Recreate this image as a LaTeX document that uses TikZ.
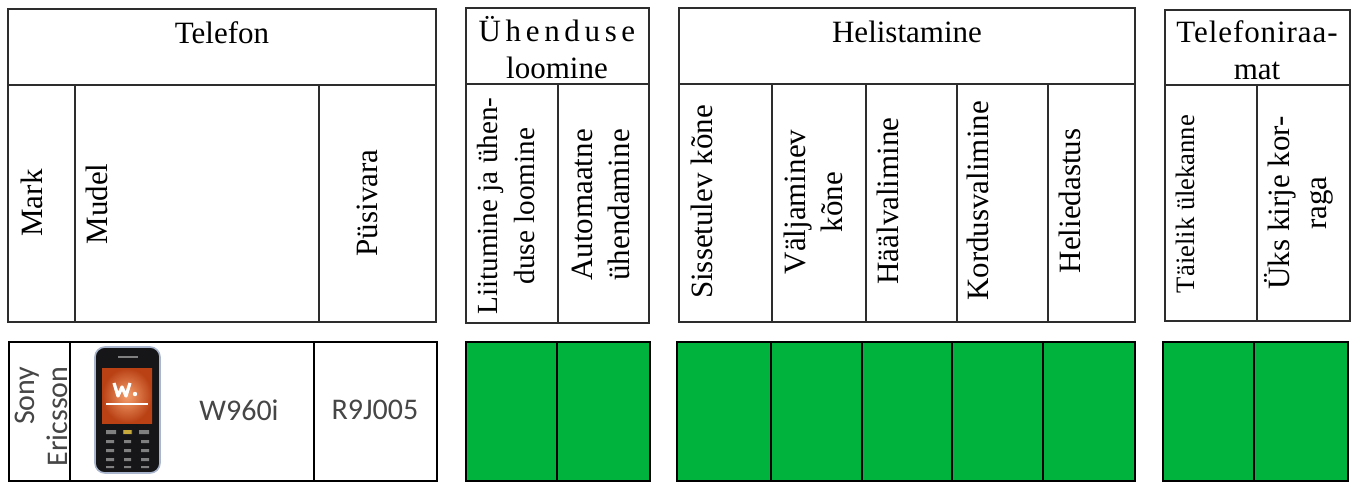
\documentclass[tikz,border=0pt]{standalone}
\usepackage{fontspec}
\setmainfont{Liberation Serif}
\newfontfamily\spacedfont[LetterSpace=15]{Liberation Serif}
\newfontfamily\raafont[LetterSpace=3]{Liberation Serif}
\newfontfamily\datafont{Carlito}

\definecolor{linegray}{RGB}{45,45,45}
\definecolor{cellgreen}{RGB}{0,179,60}
\definecolor{datagray}{RGB}{70,70,70}
\definecolor{screenhi}{RGB}{245,160,110}
\definecolor{screenlo}{RGB}{185,65,20}
\definecolor{phoneedge}{RGB}{170,182,205}
\definecolor{phonebody}{RGB}{22,22,24}
\definecolor{keyyellow}{RGB}{200,170,60}

\begin{document}
\begin{tikzpicture}[x=0.5pt,y=-0.5pt,
  frame/.style={draw=linegray, line width=1.2pt},
  greenrow/.style={draw=black, fill=cellgreen, line width=1.2pt},
  head/.style={font=\fontsize{15.5}{18.5}\selectfont, align=center, inner sep=0pt},
  side/.style={head, rotate=90},
  data/.style={font=\datafont\fontsize{15}{18}\selectfont, text=datagray, inner sep=0pt}]
\useasboundingbox (0,0) rectangle (1354,483);

% header boxes
\draw[frame] (8,9) rectangle (436,322) (8,85) -- (436,85)
  (75,85) -- (75,322) (319,85) -- (319,322);
\draw[frame] (466,8) rectangle (649,323) (466,84) -- (649,84)
  (558,84) -- (558,323);
\draw[frame] (679,8) rectangle (1135,322) (679,84) -- (1135,84)
  (772,84) -- (772,322) (866,84) -- (866,322)
  (957,84) -- (957,322) (1048,84) -- (1048,322);
\draw[frame] (1165,10) rectangle (1350,321) (1165,85) -- (1350,85)
  (1257,85) -- (1257,321);

% data row
\draw[draw=black, line width=1.2pt] (9,342) rectangle (437,481)
  (70,342) -- (70,481) (314,342) -- (314,481);
\draw[greenrow] (466,342) rectangle (650,481);
\draw[greenrow] (677,342) rectangle (1135,481);
\draw[greenrow] (1163,342) rectangle (1348,481);
\draw[line width=1.2pt] (557,342) -- (557,481)
  (771,342) -- (771,481) (862,342) -- (862,481)
  (952,342) -- (952,481) (1043,342) -- (1043,481)
  (1254,342) -- (1254,481);

% group titles
\node[head] (tel) at (222,33) {Telefon};
\node[head] (uhe) at (557,48) {{\spacedfont Ühenduse}\\loomine};
\node[head] (hel) at (907,32) {Helistamine};
\node[head] (raa) at (1257,50) {{\raafont Telefoniraa-}\\mat};

% column titles
\node[side] (mark) at (32,203) {Mark};
\node[side] (mudel) at (97,204) {Mudel};
\node[side] (pusi) at (367,203) {Püsivara};
\node[side, font=\fontsize{14.6}{18.5}\selectfont] (liit) at (506,206) {Liitumine ja ühen-\\duse loomine};
\node[side] (auto) at (601,205) {Automaatne\\ühendamine};
\node[side] (siss) at (702,202) {Sissetulev kõne};
\node[side] (valj) at (813,202) {Väljaminev\\kõne};
\node[side] (haal) at (888,201) {Häälvalimine};
\node[side] (kord) at (978,201) {Kordusvalimine};
\node[side] (heli) at (1070,201) {Heliedastus};
\node[side, font=\fontsize{13.3}{16}\selectfont] (taie) at (1185,204) {Täielik ülekanne};
\node[side] (uks) at (1299,203) {Üks kirje kor-\\raga};

% phone
\draw[draw=phoneedge, fill=phonebody, line width=0.8pt, rounded corners=5pt]
  (95,347) rectangle (160,473);
\shade[inner color=screenhi, outer color=screenlo] (102,368) rectangle (152,423);
\draw[white, line width=1.6pt, line join=round] (114,383) -- (118,396) -- (122,387) -- (126,396) -- (130,383);
\fill[white] (135,394) circle (2.2);
\draw[white, line width=0.8pt] (106,404) -- (148,404);
\draw[gray, line width=0.6pt] (118,357) -- (138,357);
\fill[gray] (106,430) rectangle (116,434) (123,430) rectangle (132,434) (139,430) rectangle (149,434);
\fill[gray] (106,440) rectangle (114,443) (124,440) rectangle (131,443) (141,440) rectangle (149,443);
\fill[gray] (106,449) rectangle (114,452) (124,449) rectangle (131,452) (141,449) rectangle (149,452);
\fill[gray] (106,458) rectangle (114,461) (124,458) rectangle (131,461) (141,458) rectangle (149,461);
\fill[gray] (106,466) rectangle (114,468) (124,466) rectangle (131,468) (141,466) rectangle (149,468);
\fill[keyyellow] (124,430) rectangle (131,434);

% data texts
\node[data, rotate=90, align=right, anchor=east, font=\datafont\fontsize{15}{16.5}\selectfont] (brand) at (41,366) {Sony\\Ericsson};
\node[data] (model) at (239,410) {W960i};
\node[data] (firm) at (375,410) {R9J005};
\end{tikzpicture}
\end{document}
